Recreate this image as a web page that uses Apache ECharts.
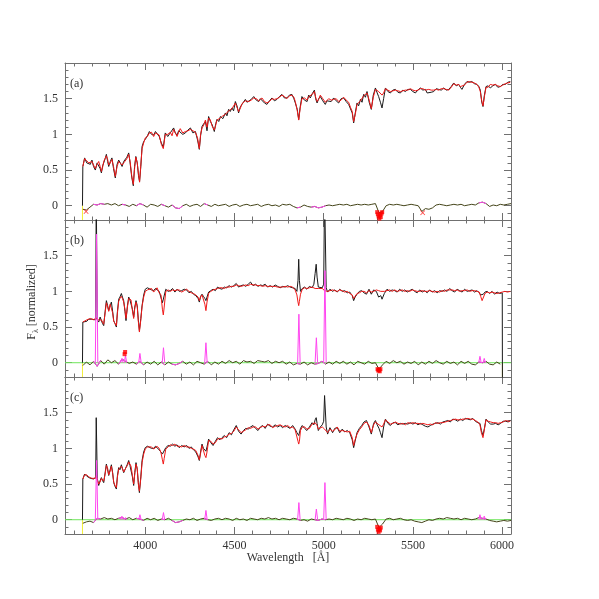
<!DOCTYPE html>
<html>
<head>
<meta charset="utf-8">
<script src="https://cdn.jsdelivr.net/npm/echarts@6/dist/echarts.min.js"></script>
<style>
  html, body { margin: 0; padding: 0; background: #fff; }
  #chart { width: 599px; height: 599px; }
</style>
</head>
<body>
<div id="chart"></div>
<script>
// axis ranges / ticks
const XMIN = 3550, XMAX = 6050, YMIN = -0.2, YMAX = 2.0;
const xMajor = [4000, 4500, 5000, 5500, 6000];
const xMinor = [3600, 3700, 3800, 3900, 4100, 4200, 4300, 4400, 4600, 4700, 4800, 4900,
  5100, 5200, 5300, 5400, 5600, 5700, 5800, 5900, 6000];
const yMajor = [0, 0.5, 1, 1.5];
const yMinor = [-0.1, 0.1, 0.2, 0.3, 0.4, 0.6, 0.7, 0.8, 0.9, 1.1, 1.2, 1.3, 1.4, 1.6, 1.7, 1.8, 1.9];
const panelNames = ['(a)', '(b)', '(c)'];

// ---- panel (a) ----
const waveA = [3648,3650,3660,3672,3683,3692,3701,3710,3720,3730,
  3739,3747,3754,3761,3767,3775,3782,3789,3795,3804,
  3813,3822,3832,3842,3851,3860,3870,3879,3888,3897,
  3907,3915,3924,3933,3940,3947,3955,3962,3968,3975,
  3982,3991,4000,4012,4023,4035,4047,4057,4066,4078,
  4090,4101,4112,4126,4140,4150,4159,4168,4178,4187,
  4196,4210,4225,4239,4253,4267,4281,4293,4303,4310,
  4318,4328,4337,4346,4355,4365,4374,4387,4395,4402,
  4412,4421,4435,4449,4458,4467,4476,4486,4495,4505,
  4514,4523,4532,4542,4551,4561,4570,4580,4594,4608,
  4622,4636,4645,4654,4668,4682,4696,4710,4724,4738,
  4752,4766,4780,4794,4808,4822,4833,4841,4852,4860,
  4868,4878,4892,4907,4916,4925,4936,4948,4955,4963,
  4972,4981,4995,5009,5018,5028,5042,5056,5070,5084,
  5098,5112,5126,5140,5150,5160,5168,5177,5187,5196,
  5206,5215,5224,5234,5243,5255,5267,5278,5290,5300,
  5308,5318,5327,5336,5346,5360,5374,5388,5402,5416,
  5430,5444,5458,5472,5486,5500,5514,5528,5542,5556,
  5570,5580,5589,5603,5617,5631,5645,5659,5673,5687,
  5701,5715,5729,5743,5757,5766,5775,5789,5803,5817,
  5831,5845,5859,5870,5878,5886,5893,5901,5910,5922,
  5934,5948,5962,5976,5990,6004,6018,6032,6046];
const obsA = [0.00,0.55,0.67,0.60,0.62,0.58,0.64,0.55,0.50,0.60,
  0.60,0.52,0.46,0.56,0.60,0.66,0.72,0.62,0.55,0.62,
  0.67,0.52,0.39,0.58,0.64,0.60,0.55,0.62,0.60,0.68,
  0.74,0.60,0.40,0.28,0.55,0.69,0.60,0.42,0.34,0.55,
  0.83,0.90,0.93,0.98,1.04,1.00,0.99,1.04,1.02,0.97,
  0.88,0.82,1.02,0.97,1.02,1.00,1.09,1.02,0.99,1.05,
  1.06,1.00,1.02,1.06,1.09,1.02,1.04,0.92,0.79,0.98,
  1.11,1.15,1.18,1.05,1.25,1.18,1.14,1.04,1.15,1.21,
  1.18,1.25,1.22,1.30,1.26,1.35,1.32,1.37,1.33,1.46,
  1.40,1.30,1.38,1.42,1.44,1.49,1.45,1.44,1.49,1.53,
  1.48,1.46,1.50,1.49,1.44,1.42,1.47,1.51,1.47,1.49,
  1.53,1.56,1.51,1.51,1.55,1.56,1.50,1.44,1.35,1.21,
  1.38,1.53,1.48,1.46,1.55,1.51,1.57,1.62,1.50,1.44,
  1.50,1.53,1.47,1.42,1.47,1.49,1.46,1.51,1.47,1.44,
  1.50,1.51,1.46,1.42,1.40,1.30,1.16,1.30,1.44,1.40,
  1.49,1.45,1.56,1.52,1.60,1.45,1.35,1.55,1.65,1.58,
  1.53,1.45,1.37,1.50,1.65,1.60,1.58,1.62,1.63,1.59,
  1.58,1.62,1.60,1.63,1.63,1.60,1.58,1.62,1.65,1.62,
  1.63,1.58,1.56,1.59,1.60,1.64,1.63,1.62,1.65,1.62,
  1.63,1.67,1.72,1.68,1.70,1.66,1.63,1.70,1.74,1.73,
  1.74,1.71,1.70,1.67,1.62,1.45,1.39,1.55,1.67,1.68,
  1.65,1.68,1.70,1.66,1.67,1.70,1.70,1.73,1.74];
const modA = [null,0.55,0.66,0.63,0.60,0.62,0.62,0.57,0.52,0.58,
  0.62,0.55,0.48,0.54,0.62,0.64,0.70,0.65,0.57,0.60,
  0.65,0.55,0.41,0.55,0.62,0.62,0.57,0.60,0.58,0.66,
  0.72,0.62,0.42,0.30,0.52,0.68,0.60,0.44,0.33,0.57,
  0.80,0.88,0.95,0.97,1.02,1.03,0.97,1.02,1.04,0.99,
  0.86,0.80,1.00,1.00,1.03,0.98,1.07,1.05,0.97,1.03,
  1.08,1.02,1.04,1.05,1.07,1.05,1.03,0.95,0.80,1.00,
  1.09,1.13,1.20,1.10,1.23,1.20,1.12,1.06,1.13,1.20,
  1.21,1.23,1.26,1.28,1.29,1.33,1.35,1.36,1.37,1.44,
  1.42,1.32,1.36,1.43,1.45,1.47,1.48,1.46,1.48,1.51,
  1.50,1.47,1.49,1.51,1.46,1.44,1.46,1.50,1.49,1.50,
  1.52,1.55,1.53,1.50,1.54,1.55,1.52,1.46,1.33,1.20,
  1.36,1.50,1.51,1.48,1.53,1.52,1.56,1.60,1.52,1.46,
  1.49,1.55,1.50,1.45,1.46,1.50,1.48,1.49,1.50,1.46,
  1.48,1.52,1.48,1.45,1.38,1.32,1.18,1.28,1.42,1.42,
  1.47,1.48,1.54,1.55,1.58,1.48,1.36,1.52,1.63,1.62,
  1.60,1.58,1.55,1.58,1.64,1.62,1.60,1.61,1.62,1.61,
  1.60,1.61,1.62,1.62,1.64,1.62,1.61,1.62,1.64,1.64,
  1.62,1.62,1.63,1.62,1.62,1.63,1.62,1.64,1.64,1.63,
  1.62,1.66,1.71,1.69,1.70,1.67,1.65,1.69,1.73,1.74,
  1.73,1.72,1.70,1.66,1.60,1.47,1.40,1.53,1.66,1.66,
  1.70,1.69,1.70,1.68,1.67,1.69,1.71,1.72,1.73];

// ---- panel (b) ----
const waveB = [3648,3650,3660,3672,3683,3692,3701,3712,3722,3725,
  3728,3731,3739,3747,3754,3760,3767,3775,3782,3789,
  3795,3803,3810,3817,3823,3830,3838,3844,3851,3858,
  3866,3872,3879,3886,3892,3900,3907,3914,3920,3928,
  3935,3941,3948,3955,3961,3967,3975,3982,3991,4000,
  4012,4023,4035,4047,4057,4066,4078,4088,4096,4101,
  4106,4115,4128,4140,4153,4166,4178,4190,4204,4218,
  4232,4245,4258,4270,4283,4296,4303,4310,4318,4326,
  4334,4340,4346,4355,4367,4380,4393,4405,4418,4430,
  4443,4456,4470,4483,4496,4510,4523,4537,4550,4563,
  4577,4590,4604,4618,4632,4645,4658,4672,4686,4700,
  4714,4728,4742,4756,4770,4784,4798,4812,4826,4840,
  4850,4856,4860,4864,4870,4880,4893,4906,4920,4935,
  4945,4952,4958,4963,4970,4981,4992,5000,5005,5009,
  5014,5022,5035,5050,5062,5076,5090,5104,5118,5132,
  5146,5160,5168,5176,5187,5200,5213,5226,5240,5254,
  5267,5280,5295,5308,5320,5327,5340,5355,5370,5384,
  5398,5412,5426,5440,5454,5468,5482,5496,5510,5524,
  5538,5552,5566,5580,5594,5608,5622,5636,5650,5664,
  5678,5692,5706,5720,5734,5748,5762,5776,5790,5804,
  5818,5832,5846,5860,5872,5880,5888,5895,5904,5916,
  5930,5944,5958,5972,5986,5996,6001,6002,6016,6030,
  6046];
const obsB = [0.00,0.57,0.59,0.58,0.61,0.60,0.61,0.62,0.60,2.40,
  2.40,0.60,0.57,0.64,0.62,0.55,0.52,0.72,0.87,0.80,
  0.73,0.80,0.85,0.72,0.59,0.55,0.50,0.72,0.89,0.92,
  0.97,0.92,0.87,0.72,0.59,0.80,0.92,0.88,0.89,0.75,
  0.64,0.78,0.87,0.80,0.60,0.45,0.62,0.80,0.95,1.03,
  1.05,1.06,1.02,1.01,1.04,1.03,1.00,0.98,0.84,0.82,
  0.86,1.03,1.00,1.01,1.04,0.99,1.03,1.00,1.01,1.03,
  1.02,0.98,1.00,0.96,0.94,0.90,0.85,0.93,0.96,0.93,
  0.90,0.87,0.92,0.99,1.01,1.03,1.01,1.06,1.04,1.03,
  1.06,1.05,1.08,1.06,1.08,1.11,1.06,1.08,1.09,1.07,
  1.10,1.13,1.08,1.10,1.07,1.09,1.08,1.10,1.06,1.08,
  1.06,1.09,1.07,1.05,1.07,1.06,1.08,1.06,1.05,1.04,
  1.00,1.15,1.45,1.15,1.00,1.04,1.06,1.03,1.07,1.05,
  1.10,1.25,1.38,1.20,1.06,1.04,1.05,1.10,2.40,2.40,
  1.05,0.99,1.03,1.00,1.02,0.99,1.03,1.00,1.01,0.98,
  0.99,0.94,0.87,0.92,0.96,1.00,1.01,0.98,0.96,1.03,
  0.96,1.02,1.00,0.92,0.94,0.89,0.97,1.03,1.00,1.02,
  1.01,0.99,1.03,1.00,1.02,0.99,1.01,1.03,1.00,0.98,
  1.02,0.99,1.01,0.98,1.02,0.99,1.01,0.98,1.01,1.00,
  1.02,1.00,1.04,1.01,0.99,1.03,1.01,0.99,1.03,1.00,
  1.01,1.02,0.99,1.01,0.98,0.95,0.94,0.96,0.99,1.00,
  0.97,1.00,0.96,0.99,0.97,0.99,0.98,-0.30,null,null,
  null];
const modB = [null,0.57,0.58,0.60,0.59,0.62,0.60,0.60,0.63,0.64,
  0.63,0.62,0.60,0.62,0.60,0.58,0.54,0.70,0.84,0.78,
  0.72,0.82,0.84,0.70,0.58,0.56,0.52,0.70,0.86,0.90,
  0.93,0.90,0.85,0.75,0.62,0.78,0.90,0.90,0.88,0.73,
  0.62,0.76,0.85,0.78,0.58,0.43,0.60,0.79,0.92,1.00,
  1.02,1.04,1.04,0.99,1.02,1.05,0.98,0.95,0.75,0.67,
  0.78,1.00,1.02,1.00,1.02,1.01,1.02,1.02,0.99,1.01,
  1.03,1.00,0.98,0.97,0.95,0.92,0.87,0.92,0.95,0.94,
  0.82,0.73,0.85,0.97,1.00,1.02,1.03,1.04,1.05,1.05,
  1.04,1.06,1.06,1.07,1.07,1.09,1.08,1.07,1.08,1.09,
  1.08,1.10,1.09,1.09,1.08,1.08,1.07,1.08,1.07,1.07,
  1.07,1.07,1.06,1.06,1.06,1.07,1.06,1.07,1.06,1.02,
  0.95,0.85,0.80,0.86,0.96,1.03,1.05,1.04,1.05,1.06,
  1.05,1.04,1.03,1.05,1.04,1.05,1.04,1.02,1.01,1.00,
  0.99,1.00,1.01,1.02,1.01,1.00,1.02,1.01,0.99,1.00,
  0.97,0.95,0.90,0.93,0.97,0.98,1.00,1.00,0.98,1.01,
  0.99,1.00,1.02,1.01,1.00,1.01,1.00,1.01,1.02,1.00,
  1.02,1.00,1.01,1.02,1.00,1.01,1.00,1.02,1.01,1.00,
  1.00,1.01,1.00,1.00,1.01,1.00,0.99,1.00,0.99,1.01,
  1.00,1.02,1.02,1.02,1.01,1.02,1.00,1.01,1.01,1.02,
  1.00,1.01,1.01,1.00,0.99,0.93,0.87,0.89,0.97,0.99,
  0.98,0.99,0.98,0.97,0.98,0.98,0.99,0.99,1.00,0.99,
  1.00];

// ---- panel (c) ----
const waveC = [3648,3650,3660,3672,3683,3692,3701,3712,3722,3725,
  3728,3731,3739,3747,3754,3760,3767,3775,3782,3789,
  3795,3803,3810,3817,3823,3830,3838,3844,3851,3858,
  3866,3872,3879,3886,3892,3900,3907,3914,3920,3928,
  3935,3941,3948,3955,3961,3967,3975,3982,3991,4000,
  4012,4023,4035,4047,4057,4066,4078,4088,4096,4101,
  4106,4115,4128,4140,4153,4166,4178,4190,4204,4218,
  4232,4245,4258,4270,4283,4296,4303,4310,4318,4326,
  4334,4340,4346,4355,4367,4380,4393,4405,4418,4430,
  4443,4456,4470,4483,4496,4510,4523,4537,4550,4563,
  4577,4590,4604,4618,4632,4645,4658,4672,4686,4700,
  4714,4728,4742,4756,4770,4784,4798,4812,4826,4840,
  4850,4856,4860,4864,4870,4880,4893,4906,4920,4935,
  4945,4952,4958,4963,4970,4981,4992,5000,5005,5009,
  5014,5022,5035,5050,5062,5076,5090,5104,5118,5132,
  5146,5160,5168,5176,5187,5200,5213,5226,5240,5254,
  5267,5280,5290,5300,5310,5318,5327,5336,5346,5360,
  5374,5388,5402,5416,5430,5444,5458,5472,5486,5500,
  5514,5528,5542,5556,5570,5584,5598,5612,5626,5640,
  5654,5668,5682,5696,5710,5724,5738,5752,5766,5780,
  5794,5808,5822,5836,5850,5864,5876,5884,5893,5901,
  5910,5922,5936,5950,5964,5978,5992,6006,6020,6034,
  6046];
const obsC = [0.00,0.57,0.64,0.61,0.62,0.58,0.59,0.57,0.60,1.43,
  1.43,0.58,0.48,0.55,0.59,0.55,0.52,0.66,0.78,0.70,
  0.62,0.70,0.77,0.66,0.52,0.47,0.43,0.62,0.73,0.70,
  0.77,0.72,0.66,0.70,0.71,0.78,0.83,0.76,0.77,0.60,
  0.48,0.66,0.80,0.70,0.52,0.38,0.60,0.83,0.95,1.01,
  1.03,1.04,1.00,1.00,1.03,1.02,0.98,0.97,0.92,0.90,
  0.93,1.01,1.04,1.03,1.06,1.03,1.05,1.01,1.04,1.02,
  1.04,1.00,1.02,0.98,0.95,0.88,0.83,0.95,1.06,1.00,
  0.98,0.96,1.02,1.13,1.08,1.04,1.10,1.15,1.12,1.15,
  1.18,1.15,1.22,1.19,1.26,1.32,1.24,1.20,1.25,1.28,
  1.27,1.30,1.32,1.28,1.25,1.30,1.32,1.28,1.34,1.31,
  1.30,1.33,1.30,1.32,1.29,1.32,1.30,1.28,1.32,1.27,
  1.22,1.20,1.18,1.20,1.28,1.32,1.28,1.25,1.30,1.36,
  1.33,1.40,1.43,1.35,1.25,1.30,1.33,1.38,1.74,1.74,
  1.30,1.20,1.29,1.22,1.28,1.29,1.22,1.27,1.23,1.25,
  1.22,1.12,1.01,1.10,1.22,1.28,1.32,1.37,1.39,1.30,
  1.20,1.35,1.39,1.33,1.28,1.22,1.15,1.30,1.41,1.35,
  1.32,1.36,1.36,1.33,1.35,1.34,1.35,1.34,1.36,1.34,
  1.36,1.33,1.35,1.33,1.31,1.30,1.32,1.34,1.35,1.36,
  1.34,1.37,1.38,1.39,1.37,1.41,1.40,1.38,1.41,1.39,
  1.42,1.41,1.40,1.42,1.38,1.36,1.35,1.25,1.18,1.28,
  1.41,1.37,1.34,1.34,1.35,1.33,1.35,1.38,1.38,1.37,
  1.39];
const modC = [null,0.57,0.63,0.63,0.60,0.61,0.58,0.59,0.58,0.62,
  0.60,0.56,0.50,0.53,0.58,0.56,0.54,0.64,0.76,0.72,
  0.63,0.68,0.75,0.65,0.53,0.48,0.45,0.60,0.71,0.72,
  0.75,0.74,0.67,0.68,0.73,0.76,0.81,0.78,0.75,0.62,
  0.50,0.64,0.78,0.72,0.50,0.40,0.58,0.80,0.92,0.99,
  1.02,1.03,1.02,0.99,1.01,1.03,1.00,0.94,0.84,0.78,
  0.86,0.99,1.02,1.05,1.04,1.06,1.03,1.03,1.02,1.04,
  1.02,1.02,1.00,0.99,0.97,0.90,0.84,0.93,1.04,1.02,
  0.90,0.87,0.95,1.11,1.10,1.06,1.08,1.13,1.14,1.13,
  1.16,1.17,1.20,1.21,1.24,1.30,1.26,1.22,1.24,1.26,
  1.29,1.28,1.30,1.30,1.27,1.29,1.31,1.30,1.33,1.33,
  1.29,1.31,1.32,1.33,1.31,1.30,1.32,1.29,1.30,1.26,
  1.16,1.10,1.06,1.10,1.25,1.30,1.30,1.27,1.28,1.34,
  1.35,1.36,1.34,1.32,1.27,1.28,1.30,1.28,1.27,1.26,
  1.25,1.22,1.27,1.24,1.26,1.30,1.24,1.25,1.24,1.23,
  1.24,1.15,1.04,1.12,1.20,1.26,1.30,1.35,1.37,1.32,
  1.22,1.33,1.37,1.35,1.33,1.32,1.30,1.34,1.40,1.37,
  1.34,1.35,1.37,1.35,1.34,1.35,1.33,1.36,1.35,1.36,
  1.35,1.35,1.34,1.35,1.34,1.33,1.34,1.33,1.36,1.35,
  1.36,1.36,1.37,1.38,1.39,1.40,1.41,1.40,1.40,1.41,
  1.41,1.42,1.41,1.41,1.39,1.37,1.33,1.22,1.15,1.27,
  1.40,1.38,1.37,1.36,1.36,1.35,1.36,1.37,1.39,1.38,
  1.38];

// ---- residuals, sampled every 20 A from 3650 to 6050 ----
const resWave = [];
for (let w = 3650; w <= 6050; w += 20) resWave.push(w);
const resA = [-0.05,-0.06,-0.02,0.02,0.01,0.03,0.02,0.03,0.01,0.03,
  0.00,0.02,0.01,-0.01,0.02,0.00,0.03,0.01,-0.02,0.02,
  0.01,-0.01,0.02,0.00,-0.02,0.01,-0.03,-0.04,0.00,0.02,
  -0.01,0.01,0.02,-0.01,0.03,0.01,-0.01,0.02,0.00,0.01,
  0.02,-0.01,0.01,0.02,-0.01,0.01,0.02,0.00,0.01,0.02,
  -0.01,0.01,0.02,0.00,0.01,-0.01,0.02,0.01,0.02,-0.01,
  -0.03,-0.02,0.01,-0.01,-0.02,-0.01,-0.03,-0.02,0.00,0.01,
  0.00,0.01,0.02,0.01,0.02,0.00,0.01,0.02,0.01,0.02,
  0.01,0.02,0.03,-0.10,-0.08,0.00,0.02,0.01,0.02,0.01,
  0.00,0.01,0.02,0.01,0.00,-0.08,-0.04,-0.05,-0.03,0.01,
  0.02,0.01,0.00,0.01,0.02,0.01,0.02,0.00,0.01,0.02,
  0.01,0.04,0.05,0.03,-0.01,0.01,0.00,0.02,0.01,0.02,
  0.03];
const resB = [-0.04,0.01,-0.03,0.02,-0.05,0.03,-0.02,0.04,0.00,0.03,
  -0.02,0.05,0.02,-0.01,0.01,-0.02,0.02,-0.03,0.01,-0.02,
  0.02,-0.03,0.01,-0.03,0.01,-0.02,-0.03,-0.01,0.02,-0.02,
  0.01,-0.03,0.02,0.00,-0.02,0.02,-0.03,0.01,-0.02,0.02,
  -0.01,0.03,0.00,0.02,-0.02,0.03,0.01,0.02,-0.01,0.03,
  0.02,0.01,0.03,-0.01,0.02,0.00,0.02,-0.02,0.01,-0.03,
  -0.01,-0.02,0.01,-0.03,0.00,-0.02,-0.01,0.02,-0.02,0.01,
  -0.02,0.02,-0.01,0.02,-0.02,0.01,-0.03,0.02,0.00,-0.02,
  0.02,-0.01,0.00,-0.09,-0.03,0.02,-0.01,0.03,0.00,0.02,
  -0.02,0.01,-0.01,0.02,-0.03,0.01,-0.02,0.02,-0.01,0.03,
  0.00,-0.02,0.02,-0.01,0.01,-0.03,0.02,-0.01,0.02,-0.02,
  -0.03,0.01,0.00,0.02,-0.02,-0.03,0.01,-0.02,null,null,
  null];
const resC = [-0.05,-0.03,-0.02,-0.04,0.02,0.01,0.03,0.01,0.02,0.00,
  0.02,0.03,0.01,0.03,0.00,0.02,0.01,-0.01,0.02,0.00,
  0.02,-0.01,0.01,0.00,0.02,-0.01,-0.04,-0.03,-0.01,0.01,
  0.00,0.02,-0.01,0.01,0.02,0.00,-0.01,0.01,0.02,0.00,
  0.02,0.01,-0.01,0.02,0.00,0.01,-0.01,0.02,0.01,0.00,
  0.02,0.01,0.03,0.01,0.02,0.00,0.02,0.01,0.00,0.02,
  0.01,-0.01,0.00,-0.02,0.01,0.00,-0.01,0.01,0.00,0.01,
  0.00,0.02,0.01,0.00,0.02,0.01,-0.01,0.01,0.00,0.02,
  0.01,0.00,0.01,-0.11,-0.06,0.01,0.02,0.00,0.01,0.02,
  0.00,-0.01,0.00,-0.02,-0.03,-0.04,-0.02,0.00,-0.01,0.01,
  0.02,0.01,0.03,0.02,0.01,0.02,0.00,0.02,0.01,0.00,
  0.01,0.03,0.02,0.01,-0.01,-0.02,-0.03,-0.02,-0.01,-0.02,
  -0.01];

// masked windows (magenta part of the residual)
const maskA = [[3700,3780],[3860,3890],[3950,3990],[4090,4110],[4150,4210],[4325,4350],[4840,4880],[4930,5010],[5860,5920]];
const maskB = [[3710,3750],[3850,3890],[3950,3990],[4090,4110],[4150,4210],[4330,4350],[4850,4870],[4950,5010],[5860,5920]];
const maskC = [[3710,3750],[3850,3890],[3950,3990],[4090,4110],[4150,4210],[4330,4350],[4850,4870],[4950,5010],[5860,5920]];

// emission lines fitted in the residual
const lineWave = [3727, 3869, 3889, 3970, 4102, 4340, 4861, 4959, 5007, 5876, 5900];
const lineB = [1.80, 0.06, 0.10, 0.13, 0.21, 0.28, 0.68, 0.35, 1.29, 0.09, 0.06];
const lineC = [0.83, 0.05, 0.03, 0.07, 0.10, 0.13, 0.24, 0.15, 0.52, 0.07, 0.05];

// flagged / clipped pixels
const flagWaveA = [5300, 5304, 5308, 5312, 5316, 5320, 5324, 5328];
const flagValA = [-0.09, -0.12, -0.15, -0.18, -0.13, -0.16, -0.11, -0.09];
const crossWaveA = [3668, 5555];
const crossValA = [-0.08, -0.10];
const flagWaveB = [3884, 3887, 5302, 5306, 5310, 5314, 5318];
const flagValB = [0.12, 0.15, -0.09, -0.11, -0.10, -0.12, -0.09];
const flagWaveC = [5300, 5304, 5308, 5312, 5316, 5320];
const flagValC = [-0.10, -0.14, -0.17, -0.13, -0.15, -0.11];

// spectrum edges (yellow)
const edgeA = [3648];
const edgeB = [3648, 6002];
const edgeC = [3648];

const panels = [
  { wave: waveA, obs: obsA, mod: modA, res: resA, mask: maskA, lines: null, fw: flagWaveA, fv: flagValA, cw: crossWaveA, cv: crossValA, edge: edgeA, zero: false },
  { wave: waveB, obs: obsB, mod: modB, res: resB, mask: maskB, lines: lineB, fw: flagWaveB, fv: flagValB, cw: [], cv: [], edge: edgeB, zero: true },
  { wave: waveC, obs: obsC, mod: modC, res: resC, mask: maskC, lines: lineC, fw: flagWaveC, fv: flagValC, cw: [], cv: [], edge: edgeC, zero: true }
];

const AX = '#707070';
const FONT = "'Liberation Serif', 'DejaVu Serif', serif";
const TOPS = [63, 220, 377];
const H = 157;

let grid = [], xAxis = [], yAxis = [], series = [];

function xa(g, pos, major, labels) {
  return {
    gridIndex: g, type: 'value', min: XMIN, max: XMAX, position: pos,
    splitLine: { show: false },
    axisLine: { show: major, onZero: false, lineStyle: { color: AX, width: 1 } },
    axisTick: { show: true, inside: true, length: major ? 7 : 3.5, customValues: major ? xMajor : xMinor, lineStyle: { color: AX } },
    axisLabel: { show: labels, customValues: xMajor, margin: 6, color: '#333', fontFamily: FONT, fontSize: 12,
      formatter: v => String(v) }
  };
}
function ya(g, pos, major, labels) {
  return {
    gridIndex: g, type: 'value', min: YMIN, max: YMAX, position: pos,
    splitLine: { show: false },
    axisLine: { show: major, onZero: false, lineStyle: { color: AX, width: 1 } },
    axisTick: { show: true, inside: true, length: major ? 7 : 3.5, customValues: major ? yMajor : yMinor, lineStyle: { color: AX } },
    axisLabel: { show: labels, customValues: yMajor, margin: 7, color: '#333', fontFamily: FONT, fontSize: 12,
      formatter: v => String(v) }
  };
}

panels.forEach((p, g) => {
  grid.push({ left: 65, right: 88, top: TOPS[g], height: H });
  xAxis.push(xa(g, 'bottom', true, g === 2), xa(g, 'bottom', false, false), xa(g, 'top', true, false), xa(g, 'top', false, false));
  yAxis.push(ya(g, 'left', true, true), ya(g, 'left', false, false), ya(g, 'right', true, false), ya(g, 'right', false, false));
  const ax = { xAxisIndex: 4 * g, yAxisIndex: 4 * g };
  const line = (name, data, color, z, w) => Object.assign({
    name, type: 'line', data, z, showSymbol: false, symbol: 'none', silent: true,
    connectNulls: false, clip: true, lineStyle: { color, width: w || 1 }
  }, ax);

  // yellow edge markers
  const edgeData = [];
  p.edge.forEach(w => { edgeData.push([w, 0], [w, YMIN], [w, '-']); });
  series.push(line('edge', edgeData, '#f2ee3a', 1));

  // green zero line
  if (p.zero) series.push(line('zero', [[XMIN, 0], [XMAX, 0]], '#6fe65a', 1));

  // observed and model spectra
  series.push(line('obs', p.wave.map((w, i) => [w, p.obs[i] === null ? '-' : p.obs[i]]), '#1a1a1a', 2));
  series.push(line('model', p.wave.map((w, i) => [w, p.mod[i] === null ? '-' : p.mod[i]]), '#f01818', 3));

  // residual
  series.push(line('resid', resWave.map((w, i) => [w, p.res[i] === null ? '-' : p.res[i]]), '#45451a', 3));
  const inMask = w => p.mask.some(m => w >= m[0] && w <= m[1]);
  series.push(line('masked', resWave.map((w, i) => [w, (inMask(w) && p.res[i] !== null) ? p.res[i] : '-']), '#ff45f0', 4));

  // emission line spikes
  if (p.lines) {
    const sp = [];
    lineWave.forEach((w, i) => { sp.push([w - 7, 0], [w, p.lines[i]], [w + 7, 0], [w + 7, '-']); });
    series.push(line('emission', sp, '#ff45f0', 4));
  }

  // flagged pixels
  series.push(Object.assign({
    type: 'scatter', z: 5, silent: true, symbol: 'rect', symbolSize: 4,
    itemStyle: { color: '#ff0000' },
    data: p.fw.map((w, i) => [w, p.fv[i]])
  }, ax));
  if (p.cw.length) {
    series.push(Object.assign({
      type: 'scatter', z: 5, silent: true, symbolSize: 5,
      symbol: 'path://M0,1L1,0L5,4L9,0L10,1L6,5L10,9L9,10L5,6L1,10L0,9L4,5Z',
      itemStyle: { color: '#ff0000' },
      data: p.cw.map((w, i) => [w, p.cv[i]])
    }, ax));
  }
});

const graphic = panelNames.map((t, g) => ({
  type: 'text', x: 70, y: TOPS[g] + 21,
  style: { text: t, fill: '#333', font: '12px ' + FONT, verticalAlign: 'middle' }
}));
graphic.push({
  type: 'text', x: 32, y: 302, rotation: Math.PI / 2,
  style: {
    text: '{f|F}{s|λ}{n| [normalized]}', align: 'center', verticalAlign: 'middle',
    rich: {
      f: { fontFamily: FONT, fontSize: 12, fill: '#333', lineHeight: 16, verticalAlign: 'middle' },
      s: { fontFamily: FONT, fontSize: 8, fill: '#333', lineHeight: 16, verticalAlign: 'bottom' },
      n: { fontFamily: FONT, fontSize: 12, fill: '#333', lineHeight: 16, verticalAlign: 'middle' }
    }
  }
});
graphic.push({
  type: 'text', x: 288, y: 558,
  style: { text: 'Wavelength   [Å]', fill: '#333', font: '12px ' + FONT, align: 'center', verticalAlign: 'middle' }
});

const chart = echarts.init(document.getElementById('chart'), null, { renderer: 'canvas' });
chart.setOption({
  animation: false,
  backgroundColor: '#fff',
  grid, xAxis, yAxis, series, graphic
});
</script>
</body>
</html>
